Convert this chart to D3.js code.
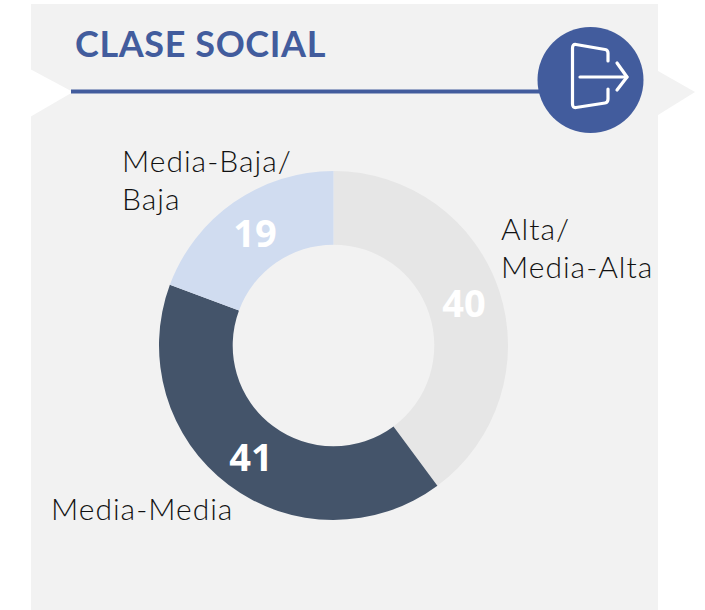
<!DOCTYPE html>
<html><head><meta charset="utf-8">
<script src="https://cdnjs.cloudflare.com/ajax/libs/d3/7.8.5/d3.min.js"></script>
<style>html,body{margin:0;padding:0;background:#fff}svg{display:block}</style>
</head><body><svg id="c" width="705" height="610"></svg>
<script>
const categories = ["Alta/Media-Alta", "Media-Media", "Media-Baja/Baja"];
const values = [39.85, 40.8, 19.35];
const colors = ["#e6e6e6", "#44546a", "#d0dcf0"];
const labelLines = [["Alta/", "Media-Alta"], ["Media-Media"], ["Media-Baja/", "Baja"]];
const title = "CLASE SOCIAL";

const svg = d3.select("#c");
const blue = "#425c9d", panel = "#f2f2f2";
const poly = (pts, fill) => svg.append("polygon").attr("points", pts.join(" ")).attr("fill", fill);
svg.append("rect").attr("x", 31).attr("y", 4).attr("width", 627).attr("height", 606).attr("fill", panel);
poly([[30,69],[73,92],[30,117]], "#fff");
poly([[658,71],[695,92],[658,115]], panel);

svg.append("line").attr("x1", 71).attr("x2", 545).attr("y1", 91.5).attr("y2", 91.5)
  .attr("stroke", blue).attr("stroke-width", 4);
svg.append("text").attr("x", 75).attr("y", 56.5).text(title)
  .attr("font-family", "Lato").attr("font-weight", 700).attr("font-size", 36)
  .attr("letter-spacing", 0.6).attr("fill", blue);

// exit icon
svg.append("circle").attr("cx", 590.5).attr("cy", 80).attr("r", 53).attr("fill", blue);
const ic = svg.append("g").attr("fill", "none").attr("stroke", "#fff").attr("stroke-width", 3.2)
  .attr("stroke-linecap", "round").attr("stroke-linejoin", "round");
ic.append("path").attr("d", "M608,61V53Q608,50 605,49.5L576,44.5Q572.5,44 572.5,48V104Q572.5,108 576,107.5L605,103Q608,102.5 608,99V89");
ic.append("path").attr("d", "M580,77H627");
ic.append("path").attr("d", "M617,63L627,77L617,90");

// donut
const cx = 333.5, cy = 345.5, rO = 174.5, rI = 100.8;
const pie = d3.pie().sort(null).value(d => d)(values);
const arc = d3.arc().innerRadius(rI).outerRadius(rO);
svg.append("g").attr("transform", `translate(${cx},${cy})`)
  .selectAll("path").data(pie).join("path").attr("d", arc).attr("fill", (d, i) => colors[i]);

const valPos = [[464, 317], [251, 471], [255, 247]];
svg.selectAll("text.v").data(values).join("text").attr("class", "v")
  .attr("x", (d, i) => valPos[i][0]).attr("y", (d, i) => valPos[i][1])
  .attr("text-anchor", "middle").attr("font-family", "Open Sans").attr("font-weight", 700)
  .attr("font-size", 38).attr("fill", "#fff").text(d => Math.round(d));

const labPos = [[501, 240], [51, 519.5], [122, 172]];
labelLines.forEach((ls, i) => ls.forEach((l, j) => {
  svg.append("text").attr("x", labPos[i][0]).attr("y", labPos[i][1] + j * 38)
    .attr("font-family", "Lato").attr("font-weight", 300).attr("font-size", 30)
    .attr("letter-spacing", 1).attr("fill", "#111").text(l);
}));
</script></body></html>
